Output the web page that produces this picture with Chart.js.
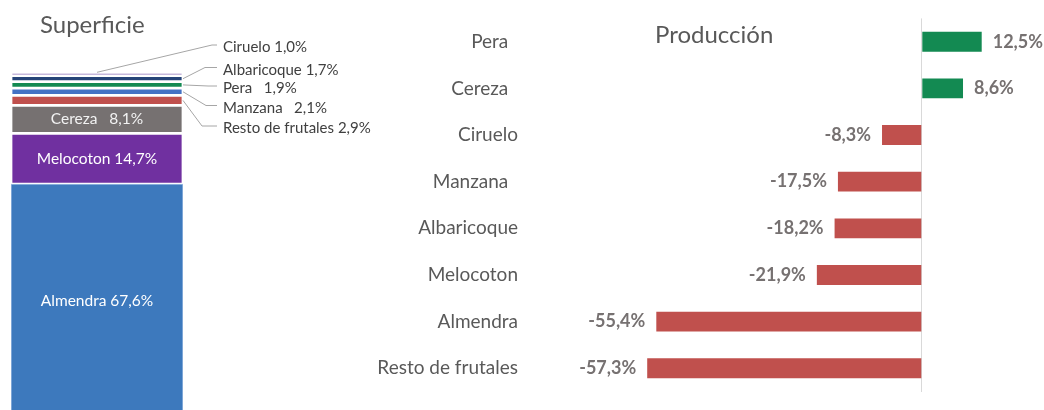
<!DOCTYPE html>
<html>
<head>
<meta charset="utf-8">
<script src="https://cdn.jsdelivr.net/npm/chart.js@4.4.1/dist/chart.umd.min.js"></script>
<style>
  html, body { margin:0; padding:0; width:1044px; height:410px; overflow:hidden; background:#fff; }
  #left { position:absolute; left:0; top:0; width:380px; height:430px; }
  #right { position:absolute; left:360px; top:0; width:684px; height:410px; }
</style>
</head>
<body>
<div id="left"><canvas id="c1" width="380" height="430"></canvas></div>
<div id="right"><canvas id="c2" width="684" height="410"></canvas></div>
<script>
// ---- Data: Superficie (stacked, bottom to top) ----
const supTitle = 'Superficie';
const supCategories = ['Almendra', 'Melocoton', 'Cereza', 'Resto de frutales', 'Manzana', 'Pera', 'Albaricoque', 'Ciruelo'];
const supValues = [67.6, 14.7, 8.1, 2.9, 2.1, 1.9, 1.7, 1.0];
const supLabels = ['Almendra 67,6%', 'Melocoton 14,7%', 'Cereza   8,1%', 'Resto de frutales 2,9%', 'Manzana   2,1%', 'Pera   1,9%', 'Albaricoque 1,7%', 'Ciruelo 1,0%'];

// ---- Data: Producción (horizontal bars, top to bottom) ----
const prodTitle = 'Producción';
const prodCategories = ['Pera  ', 'Cereza  ', 'Ciruelo', 'Manzana  ', 'Albaricoque', 'Melocoton', 'Almendra', 'Resto de frutales'];
const prodValues = [12.5, 8.6, -8.3, -17.5, -18.2, -21.9, -55.4, -57.3];
const prodLabels = ['12,5%', '8,6%', '-8,3%', '-17,5%', '-18,2%', '-21,9%', '-55,4%', '-57,3%'];

// ---- Styles ----
const FONT = 'Lato, "Open Sans", sans-serif';
const supColors = ['#3d79bd', '#7030a0', '#767171', '#c0504d', '#4472c4', '#138a52', '#264478', '#8e72b8'];
const innerTextColors = ['#ffffff', '#ffffff', '#f2f2f2'];
// outer label placement (style): text y, elbow x
const outerLayout = {
  3: { ty: 128.5, ex: 202 },
  4: { ty: 108, ex: 206 },
  5: { ty: 88.5, ex: 208 },
  6: { ty: 70, ex: 205 },
  7: { ty: 47.5, ex: 212 }
};

const supPlugin = {
  id: 'supLabels',
  afterDatasetsDraw(chart) {
    const ctx = chart.ctx;
    ctx.save();
    ctx.textBaseline = 'middle';
    chart.data.datasets.forEach((ds, i) => {
      const el = chart.getDatasetMeta(i).data[0];
      if (!el) return;
      const cy = (el.y + el.base) / 2;
      if (i < 3) {
        ctx.font = '15.5px ' + FONT;
        ctx.fillStyle = innerTextColors[i];
        ctx.textAlign = 'center';
        ctx.fillText(supLabels[i], el.x, cy);
      } else {
        const lay = outerLayout[i];
        const tx = 223;
        const ly = lay.ty - 2.5;
        let sx, sy;
        if (i === 7) { sx = el.x; sy = el.y; }
        else { sx = el.x + el.width / 2; sy = cy; }
        ctx.strokeStyle = '#a6a6a6';
        ctx.lineWidth = 1;
        ctx.beginPath();
        ctx.moveTo(sx, sy);
        ctx.lineTo(lay.ex, ly);
        ctx.lineTo(tx - 6, ly);
        ctx.stroke();
        ctx.font = '15px ' + FONT;
        ctx.fillStyle = '#404040';
        ctx.textAlign = 'left';
        ctx.fillText(supLabels[i], tx, lay.ty);
      }
    });
    // title
    ctx.font = '24px ' + FONT;
    ctx.fillStyle = '#595959';
    ctx.textAlign = 'left';
    ctx.fillText(supTitle, 40, 25);
    ctx.restore();
  }
};

new Chart(document.getElementById('c1'), {
  type: 'bar',
  data: {
    labels: [supTitle],
    datasets: supValues.map((v, i) => ({
      label: supCategories[i],
      data: [v],
      backgroundColor: supColors[i],
      borderColor: i === 0 ? 'rgba(160,190,228,1)' : '#ffffff',
      borderWidth: i === 0 ? 1 : 1.7,
      borderSkipped: false,
      barPercentage: 1,
      categoryPercentage: 1
    }))
  },
  options: {
    responsive: false,
    animation: false,
    layout: { padding: { left: 11, right: 197, top: 72.3, bottom: 12.7 } },
    plugins: {
      legend: { display: false },
      tooltip: { enabled: false },
      title: { display: false }
    },
    scales: {
      x: { stacked: true, display: false },
      y: { stacked: true, display: false, min: 0, max: 100 }
    }
  },
  plugins: [supPlugin]
});

const prodPlugin = {
  id: 'prodLabels',
  afterDatasetsDraw(chart) {
    const ctx = chart.ctx;
    ctx.save();
    ctx.textBaseline = 'middle';
    ctx.font = 'bold 18px ' + FONT;
    ctx.fillStyle = '#767171';
    const meta = chart.getDatasetMeta(0);
    meta.data.forEach((el, i) => {
      const v = prodValues[i];
      if (v >= 0) { ctx.textAlign = 'left'; ctx.fillText(prodLabels[i], el.x + 11, el.y); }
      else { ctx.textAlign = 'right'; ctx.fillText(prodLabels[i], el.x - 11, el.y); }
    });
    // title
    ctx.font = '24px ' + FONT;
    ctx.fillStyle = '#595959';
    ctx.textAlign = 'left';
    ctx.fillText(prodTitle, 295, 35);
    ctx.restore();
  }
};

new Chart(document.getElementById('c2'), {
  type: 'bar',
  data: {
    labels: prodCategories,
    datasets: [{
      label: prodTitle,
      data: prodValues,
      backgroundColor: prodValues.map(v => v >= 0 ? '#138a52' : '#c0504d'),
      barPercentage: 0.5,
      categoryPercentage: 0.85
    }]
  },
  options: {
    indexAxis: 'y',
    responsive: false,
    animation: false,
    layout: { padding: { left: 0, right: 0, top: 16.5, bottom: 17.5 } },
    plugins: {
      legend: { display: false },
      tooltip: { enabled: false },
      title: { display: false }
    },
    scales: {
      x: {
        min: -82.8, max: 25.5,
        border: { display: false },
        ticks: { display: false },
        grid: {
          drawTicks: false,
          color: c => (c.tick && c.tick.value === 0) ? '#d9d9d9' : 'rgba(0,0,0,0)',
          lineWidth: 1
        },
        afterBuildTicks: s => { s.ticks = [{ value: 0 }]; }
      },
      y: {
        border: { display: false },
        grid: { display: false, drawTicks: false },
        ticks: { color: '#595959', font: { family: FONT, size: 19 }, padding: 7 },
        afterFit: s => { s.width = 165; }
      }
    }
  },
  plugins: [prodPlugin]
});
</script>
</body>
</html>
